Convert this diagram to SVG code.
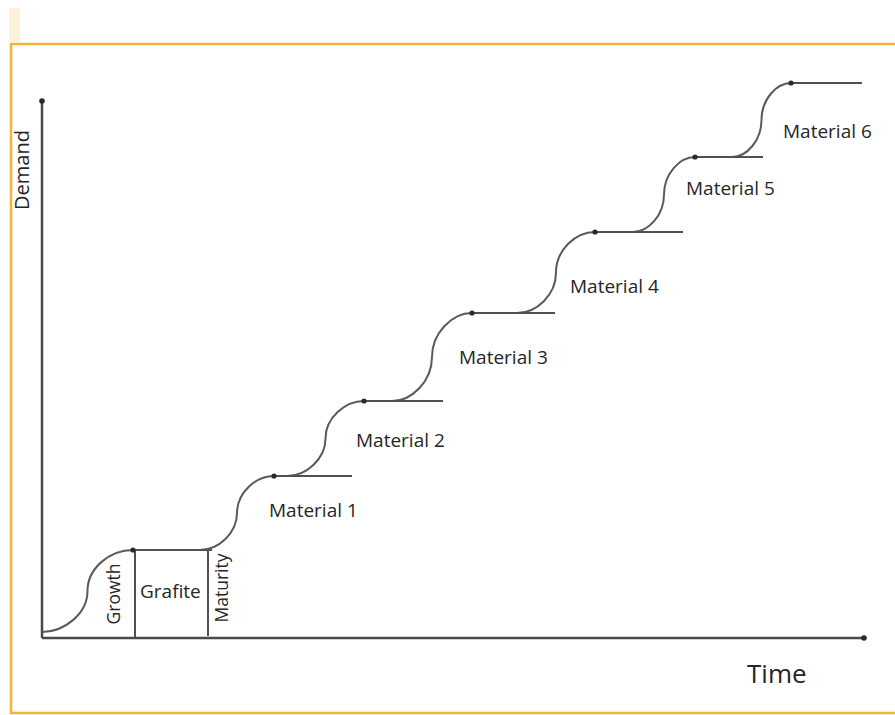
<svg xmlns="http://www.w3.org/2000/svg" width="895" height="715" viewBox="0 0 895 715">
<style>
.lbl{font-family:"Open Sans","Liberation Sans",sans-serif;font-size:19px;fill:#262626}
.curve{fill:none;stroke:#5a5a5a;stroke-width:2}
.plat{fill:none;stroke:#505050;stroke-width:2}
.axis{fill:none;stroke:#4a4a4a;stroke-width:2.5}
.dot{fill:#2a2a2a}
</style>
<rect x="0" y="0" width="895" height="715" fill="#ffffff"/>
<rect x="9" y="8" width="11" height="34" fill="#fdf1d8"/>
<path d="M896 44 H11 V713 H896" fill="none" stroke="#f2b538" stroke-width="2.5"/>
<g id="axes">
<line class="axis" x1="42" y1="102" x2="42" y2="638"/>
<line class="axis" x1="42" y1="638" x2="863" y2="638"/>
<circle class="dot" cx="42" cy="101" r="2.8"/>
<circle class="dot" cx="864" cy="638" r="2.8"/>
<text class="lbl" transform="translate(29,170) rotate(-90)" text-anchor="middle" style="font-size:20px">Demand</text>
<text class="lbl" x="747" y="683" style="font-size:26px">Time</text>
</g>
<g id="connectors">
<path class="curve" d="M42 632 C64 632 87.5 614 87.5 591 C87.5 568 110 550 133 550"/>
<path class="curve" d="M200 550 C218.5 550 237 533 237 513 C237 493 255.5 476 274 476"/>
<path class="curve" d="M287 476 C306 476 325.5 459 325.5 438.5 C325.5 418 345 401 364 401"/>
<path class="curve" d="M392 401 C412 401 432 381 432 357 C432 333 452 313 472 313"/>
<path class="curve" d="M517 313 C536.5 313 556 295 556 272.5 C556 250 575.5 232 595 232"/>
<path class="curve" d="M633 232 C648.5 232 664 215 664 194.5 C664 174 679.5 157 695 157"/>
<path class="curve" d="M732 157 C747 157 761.5 140 761.5 120 C761.5 100 776 83 791 83"/>
<line class="plat" x1="135" y1="550" x2="135" y2="637" stroke-width="1.6"/>
<line class="plat" x1="208" y1="550" x2="208" y2="636" stroke-width="1.6"/>
</g>
<g id="grafite">
<line class="plat" x1="133" y1="550" x2="212" y2="550"/>
<circle class="dot" cx="133" cy="550" r="2.6"/>
<text class="lbl" transform="translate(120,594) rotate(-90)" text-anchor="middle" style="font-size:17.5px">Growth</text>
<text class="lbl" x="140" y="598">Grafite</text>
<text class="lbl" transform="translate(228,588) rotate(-90)" text-anchor="middle" style="font-size:17.5px">Maturity</text>
</g>
<g id="material1">
<line class="plat" x1="274" y1="476" x2="352" y2="476"/>
<circle class="dot" cx="274" cy="476" r="2.6"/>
<text class="lbl" x="269" y="517">Material 1</text>
</g>
<g id="material2">
<line class="plat" x1="364" y1="401" x2="443" y2="401"/>
<circle class="dot" cx="364" cy="401" r="2.6"/>
<text class="lbl" x="356" y="447">Material 2</text>
</g>
<g id="material3">
<line class="plat" x1="472" y1="313" x2="555" y2="313"/>
<circle class="dot" cx="472" cy="313" r="2.6"/>
<text class="lbl" x="459" y="364">Material 3</text>
</g>
<g id="material4">
<line class="plat" x1="595" y1="232" x2="683" y2="232"/>
<circle class="dot" cx="595" cy="232" r="2.6"/>
<text class="lbl" x="570" y="293">Material 4</text>
</g>
<g id="material5">
<line class="plat" x1="695" y1="157" x2="763" y2="157"/>
<circle class="dot" cx="695" cy="157" r="2.6"/>
<text class="lbl" x="686" y="195">Material 5</text>
</g>
<g id="material6">
<line class="plat" x1="791" y1="83" x2="862" y2="83"/>
<circle class="dot" cx="791" cy="83" r="2.6"/>
<text class="lbl" x="783" y="138">Material 6</text>
</g>
</svg>
